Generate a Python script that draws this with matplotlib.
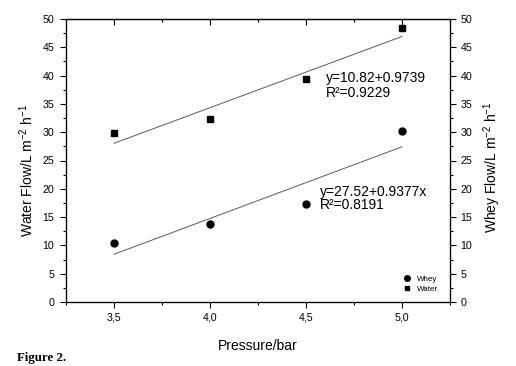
import numpy as np
import matplotlib
matplotlib.use("Agg")
import matplotlib.pyplot as plt
from matplotlib.ticker import MultipleLocator, FuncFormatter, NullFormatter

pressure = [3.5, 4.0, 4.5, 5.0]
water = [29.8, 32.3, 39.4, 48.4]
whey = [10.4, 13.7, 17.3, 30.3]
water_eq = ["y=10.82+0.9739", "R\u00b2=0.9229"]
whey_eq = ["y=27.52+0.9377x", "R\u00b2=0.8191"]

plt.rcParams['font.family'] = ['Liberation Sans', 'DejaVu Sans']
plt.rcParams['mathtext.fontset'] = 'custom'
plt.rcParams['mathtext.rm'] = 'Liberation Sans'
plt.rcParams['mathtext.it'] = 'Liberation Sans'
plt.rcParams['mathtext.default'] = 'regular'

fig = plt.figure(figsize=(5.16, 3.66), dpi=100)
W, H = 516, 366
ax = fig.add_axes([66 / W, 1 - 302 / H, (450 - 66) / W, (302 - 19) / H])

x = np.array(pressure)
for ys in (water, whey):
    p = np.polyfit(x, ys, 1)
    ax.plot(x, np.polyval(p, x), color='#5a5a5a', lw=0.7)

ax.plot(pressure, whey, 'o', color='black', ms=5, ls='none', label='Whey')
ax.plot(pressure, water, 's', color='black', ms=4.3, ls='none', label='Water')

ax.set_xlim(3.25, 5.25)
ax.set_ylim(0, 50)
ax.xaxis.set_major_locator(MultipleLocator(0.5))
ax.xaxis.set_minor_locator(MultipleLocator(0.25))
ax.yaxis.set_major_locator(MultipleLocator(5))
ax.yaxis.set_minor_locator(MultipleLocator(2.5))
ax.xaxis.set_major_formatter(FuncFormatter(lambda v, pos: f"{v:.1f}".replace('.', ',')))

ax.tick_params(axis='both', which='both', labelsize=7.7, direction='out', width=0.8)
ax.tick_params(which='major', length=4)
ax.tick_params(which='minor', length=2.5)
ax.tick_params(axis='y', pad=4.5)
for s in ax.spines.values():
    s.set_linewidth(0.9)

top = ax.secondary_xaxis('top')
top.xaxis.set_major_locator(MultipleLocator(0.5))
top.xaxis.set_minor_locator(MultipleLocator(0.25))
top.xaxis.set_major_formatter(NullFormatter())
top.tick_params(which='both', direction='in', width=0.8)
top.tick_params(which='major', length=4)
top.tick_params(which='minor', length=2.5)

ax2 = ax.twinx()
ax2.set_ylim(0, 50)
ax2.yaxis.set_major_locator(MultipleLocator(5))
ax2.yaxis.set_minor_locator(MultipleLocator(2.5))
ax2.tick_params(axis='y', which='both', labelsize=7.7, direction='out', width=0.8)
ax2.tick_params(which='major', length=4)
ax2.tick_params(which='minor', length=2.5)

ax.set_xlabel("Pressure/bar", fontsize=10, labelpad=12)
ax.set_ylabel("Water Flow/L m$^{-2}$ h$^{-1}$", fontsize=10)
ax2.set_ylabel("Whey Flow/L m$^{-2}$ h$^{-1}$", fontsize=10)
ax.yaxis.set_label_coords(-0.078, 0.465)
ax2.yaxis.set_label_coords(1.083, 0.475)

ax.text(4.604, 39.6, water_eq[0], fontsize=10, va='center')
ax.text(4.604, 36.9, water_eq[1], fontsize=10, va='center')
ax.text(4.573, 19.4, whey_eq[0], fontsize=10, va='center')
ax.text(4.573, 17.1, whey_eq[1], fontsize=10, va='center')

leg = ax.legend(loc='lower right', fontsize=5.8, frameon=False, handletextpad=0.3,
                markerscale=0.8, borderaxespad=0.6, labelspacing=0.25,
                bbox_to_anchor=(0.99, 0.005))

fig.text(17 / W, 1 - 358 / H, "Figure 2.", fontsize=9.3, fontweight='bold',
         family=['Liberation Serif', 'DejaVu Serif'], va='center')

fig.savefig("out.png", dpi=100)
